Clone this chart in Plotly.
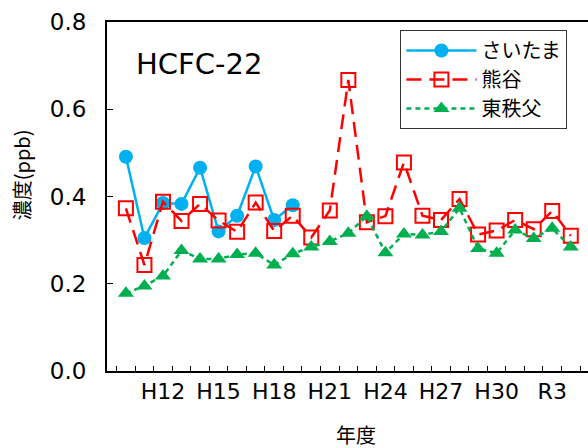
import plotly.graph_objects as go

# ------------------------------------------
# DATA
# ------------------------------------------
YEARS = ["H10", "H11", "H12", "H13", "H14", "H15", "H16", "H17", "H18", "H19",
         "H20", "H21", "H22", "H23", "H24", "H25", "H26", "H27", "H28", "H29",
         "H30", "R1", "R2", "R3", "R4"]
TICK_LABELS = ["H12", "H15", "H18", "H21", "H24", "H27", "H30", "R3"]

SAITAMA = [0.491, 0.305, 0.385, 0.383, 0.466, 0.320, 0.356, 0.469, 0.346, 0.380]
KUMAGAYA = [0.373, 0.243, 0.388, 0.344, 0.383, 0.345, 0.319, 0.386, 0.321, 0.356,
            0.306, 0.368, 0.667, 0.341, 0.355, 0.478, 0.356, 0.346, 0.394, 0.313,
            0.322, 0.346, 0.325, 0.367, 0.310]
HIGASHICHICHIBU = [0.178, 0.195, 0.218, 0.276, 0.257, 0.257, 0.267, 0.270, 0.243, 0.269,
                   0.284, 0.297, 0.316, 0.355, 0.271, 0.314, 0.312, 0.320, 0.373, 0.281,
                   0.270, 0.323, 0.304, 0.327, 0.284]

# Styling
FONT = "DejaVu Sans, Noto Sans CJK JP"
JP_FONT = "Noto Sans CJK JP"
BLUE, RED, GREEN = "#00B0F0", "#FF0000", "#00B050"

x_all = list(range(len(YEARS)))

fig = go.Figure()

fig.add_trace(go.Scatter(
    x=x_all[:len(SAITAMA)], y=SAITAMA, name="さいたま", mode="lines+markers",
    line=dict(color=BLUE, width=2.5),
    marker=dict(symbol="circle", size=14, color=BLUE),
))
fig.add_trace(go.Scatter(
    x=x_all, y=KUMAGAYA, name="熊谷", mode="lines+markers",
    line=dict(color=RED, width=2.5, dash="15px,8px"),
    marker=dict(symbol="square-open", size=14, color=RED, line=dict(width=2)),
))
fig.add_trace(go.Scatter(
    x=x_all, y=HIGASHICHICHIBU, name="東秩父", mode="lines+markers",
    line=dict(color=GREEN, width=2.5, dash="5px,4px"),
    marker=dict(symbol="triangle-up", size=14, color=GREEN),
))

tick_pos = [YEARS.index(t) for t in TICK_LABELS]

# Beschriftungen
fig.add_annotation(
    x=0.056, y=0.88, xref="paper", yref="paper", xanchor="left", yanchor="middle",
    text="HCFC-22", showarrow=False, font=dict(size=29, color="black", family=FONT),
)
fig.add_annotation(
    x=0.518, y=-0.183, xref="paper", yref="paper", xanchor="center", yanchor="middle",
    text="年度", showarrow=False, font=dict(size=20, color="black", family=JP_FONT),
)
fig.add_annotation(
    x=-0.178, y=0.562, xref="paper", yref="paper", xanchor="center", yanchor="middle",
    text="濃度(ppb)", textangle=-90, showarrow=False,
    font=dict(size=20, color="black", family=JP_FONT),
)

fig.update_layout(
    width=588, height=448,
    template="simple_white",
    margin=dict(l=107, r=0, t=22, b=77),
    font=dict(family=FONT, size=20, color="black"),
    showlegend=True,
    legend=dict(
        x=0.61, y=0.977, xanchor="left", yanchor="top",
        bgcolor="white", bordercolor="#333333", borderwidth=1,
        font=dict(size=20, family=JP_FONT), tracegroupgap=0, itemwidth=70,
    ),
    xaxis=dict(
        range=[-1.02, 24.93], automargin=False,
        tickvals=tick_pos, ticktext=TICK_LABELS, ticks="",
        showline=True, linecolor="black", linewidth=2, mirror=True,
        showgrid=False, zeroline=False,
        tickfont=dict(size=22, family=FONT),
        minor=dict(tickvals=[k - 0.5 for k in range(len(YEARS) + 1)],
                   ticks="inside", ticklen=5, tickcolor="black", tickwidth=1),
    ),
    yaxis=dict(
        range=[0, 0.8], dtick=0.2, tickformat=".1f", automargin=False,
        ticks="inside", ticklen=6, tickcolor="black",
        showline=True, linecolor="black", linewidth=2,
        showgrid=False, zeroline=False,
        tickfont=dict(size=23, family=FONT), ticklabelstandoff=14,
    ),
)

# Browser-Standardrand entfernen, damit die Figur bei (0,0) beginnt
fig.write_html("out.html", config={"displayModeBar": False},
               post_script="document.body.style.margin='0';")
